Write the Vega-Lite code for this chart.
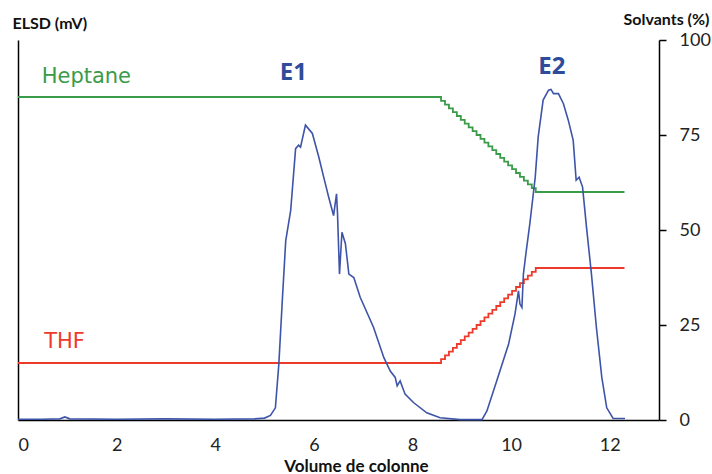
{
  "$schema": "https://vega.github.io/schema/vega-lite/v6.json",
  "width": 641,
  "height": 380,
  "autosize": {"type": "none"},
  "padding": {"left": 18, "top": 40, "right": 53, "bottom": 54},
  "background": "white",
  "config": {
    "view": {"stroke": null},
    "axis": {"labelFont": "Lato", "titleFont": "Lato", "domainColor": "#000000", "domainWidth": 1.5, "tickColor": "#000000", "tickWidth": 1.5, "labelColor": "#222222", "titleColor": "#111111", "grid": false, "labelFontSize": 18}
  },
  "datasets": {
    "elsd": [
      {"v": 0, "s": 0.2}, {"v": 0.5, "s": 0.2}, {"v": 0.85, "s": 0.3}, {"v": 0.95, "s": 0.8}, {"v": 1.05, "s": 0.3},
      {"v": 2, "s": 0.2}, {"v": 3, "s": 0.3}, {"v": 4, "s": 0.2}, {"v": 4.8, "s": 0.3}, {"v": 5.0, "s": 0.5},
      {"v": 5.12, "s": 1.2}, {"v": 5.22, "s": 3.2}, {"v": 5.29, "s": 14.7}, {"v": 5.36, "s": 31.4}, {"v": 5.43, "s": 47.2},
      {"v": 5.53, "s": 55.1}, {"v": 5.63, "s": 71.4}, {"v": 5.69, "s": 72.3}, {"v": 5.73, "s": 71.8}, {"v": 5.83, "s": 77.6},
      {"v": 5.97, "s": 75.4}, {"v": 6.10, "s": 69.2}, {"v": 6.20, "s": 63.9}, {"v": 6.30, "s": 58.7}, {"v": 6.40, "s": 53.8},
      {"v": 6.46, "s": 59.5}, {"v": 6.48, "s": 54.3}, {"v": 6.52, "s": 38.4}, {"v": 6.57, "s": 49.4}, {"v": 6.64, "s": 46.4},
      {"v": 6.71, "s": 38.4}, {"v": 6.81, "s": 37.5}, {"v": 6.94, "s": 32.3}, {"v": 7.21, "s": 24.4}, {"v": 7.42, "s": 16.4},
      {"v": 7.55, "s": 12.9}, {"v": 7.65, "s": 11.2}, {"v": 7.69, "s": 9.0}, {"v": 7.75, "s": 10.3}, {"v": 7.85, "s": 6.8},
      {"v": 8.02, "s": 4.6}, {"v": 8.29, "s": 1.9}, {"v": 8.56, "s": 0.6}, {"v": 8.97, "s": 0.1}, {"v": 9.41, "s": 0.1},
      {"v": 9.51, "s": 2.4}, {"v": 9.71, "s": 10.3}, {"v": 9.95, "s": 20.0}, {"v": 10.08, "s": 27.9}, {"v": 10.15, "s": 34.0},
      {"v": 10.18, "s": 30.5}, {"v": 10.22, "s": 29.6}, {"v": 10.25, "s": 38.4}, {"v": 10.30, "s": 43.7}, {"v": 10.38, "s": 51.6},
      {"v": 10.49, "s": 63.9}, {"v": 10.55, "s": 74.5}, {"v": 10.65, "s": 84.2}, {"v": 10.76, "s": 86.8}, {"v": 10.81, "s": 87.0},
      {"v": 10.86, "s": 85.9}, {"v": 10.96, "s": 85.9}, {"v": 11.06, "s": 83.3}, {"v": 11.16, "s": 78.9}, {"v": 11.26, "s": 73.6},
      {"v": 11.32, "s": 63.1}, {"v": 11.38, "s": 63.9}, {"v": 11.45, "s": 61.3}, {"v": 11.53, "s": 50.7}, {"v": 11.63, "s": 38.4},
      {"v": 11.73, "s": 24.4}, {"v": 11.84, "s": 11.2}, {"v": 11.94, "s": 3.2}, {"v": 12.07, "s": 0.4}, {"v": 12.31, "s": 0.4}
    ],
    "solv": [
      {"solvant": "Heptane", "v": 0, "pct": 85}, {"solvant": "Heptane", "v": 8.5, "pct": 85},
      {"solvant": "Heptane", "v": 8.58, "pct": 84}, {"solvant": "Heptane", "v": 8.66, "pct": 83},
      {"solvant": "Heptane", "v": 8.74, "pct": 82}, {"solvant": "Heptane", "v": 8.82, "pct": 81},
      {"solvant": "Heptane", "v": 8.9, "pct": 80}, {"solvant": "Heptane", "v": 8.98, "pct": 79},
      {"solvant": "Heptane", "v": 9.06, "pct": 78}, {"solvant": "Heptane", "v": 9.14, "pct": 77},
      {"solvant": "Heptane", "v": 9.22, "pct": 76}, {"solvant": "Heptane", "v": 9.3, "pct": 75},
      {"solvant": "Heptane", "v": 9.38, "pct": 74}, {"solvant": "Heptane", "v": 9.46, "pct": 73},
      {"solvant": "Heptane", "v": 9.54, "pct": 72}, {"solvant": "Heptane", "v": 9.62, "pct": 71},
      {"solvant": "Heptane", "v": 9.7, "pct": 70}, {"solvant": "Heptane", "v": 9.78, "pct": 69},
      {"solvant": "Heptane", "v": 9.86, "pct": 68}, {"solvant": "Heptane", "v": 9.94, "pct": 67},
      {"solvant": "Heptane", "v": 10.02, "pct": 66}, {"solvant": "Heptane", "v": 10.1, "pct": 65},
      {"solvant": "Heptane", "v": 10.18, "pct": 64}, {"solvant": "Heptane", "v": 10.26, "pct": 63},
      {"solvant": "Heptane", "v": 10.34, "pct": 62}, {"solvant": "Heptane", "v": 10.42, "pct": 61},
      {"solvant": "Heptane", "v": 10.5, "pct": 60}, {"solvant": "Heptane", "v": 12.3, "pct": 60},
      {"solvant": "THF", "v": 0, "pct": 15}, {"solvant": "THF", "v": 8.5, "pct": 15},
      {"solvant": "THF", "v": 8.58, "pct": 16}, {"solvant": "THF", "v": 8.66, "pct": 17},
      {"solvant": "THF", "v": 8.74, "pct": 18}, {"solvant": "THF", "v": 8.82, "pct": 19},
      {"solvant": "THF", "v": 8.9, "pct": 20}, {"solvant": "THF", "v": 8.98, "pct": 21},
      {"solvant": "THF", "v": 9.06, "pct": 22}, {"solvant": "THF", "v": 9.14, "pct": 23},
      {"solvant": "THF", "v": 9.22, "pct": 24}, {"solvant": "THF", "v": 9.3, "pct": 25},
      {"solvant": "THF", "v": 9.38, "pct": 26}, {"solvant": "THF", "v": 9.46, "pct": 27},
      {"solvant": "THF", "v": 9.54, "pct": 28}, {"solvant": "THF", "v": 9.62, "pct": 29},
      {"solvant": "THF", "v": 9.7, "pct": 30}, {"solvant": "THF", "v": 9.78, "pct": 31},
      {"solvant": "THF", "v": 9.86, "pct": 32}, {"solvant": "THF", "v": 9.94, "pct": 33},
      {"solvant": "THF", "v": 10.02, "pct": 34}, {"solvant": "THF", "v": 10.1, "pct": 35},
      {"solvant": "THF", "v": 10.18, "pct": 36}, {"solvant": "THF", "v": 10.26, "pct": 37},
      {"solvant": "THF", "v": 10.34, "pct": 38}, {"solvant": "THF", "v": 10.42, "pct": 39},
      {"solvant": "THF", "v": 10.5, "pct": 40}, {"solvant": "THF", "v": 12.3, "pct": 40}
    ],
    "peaks": [
      {"label": "E1", "v": 5.31, "y": 89.5},
      {"label": "E2", "v": 10.55, "y": 91.1}
    ],
    "solvlabels": [
      {"label": "Heptane", "v": 0.48, "y": 88.6, "c": "#3A9B48"},
      {"label": "THF", "v": 0.53, "y": 18.9, "c": "#EE3A2A"}
    ]
  },
  "layer": [
    {
      "data": {"name": "solv"},
      "mark": {"type": "line", "interpolate": "step-after", "strokeWidth": 1.8},
      "encoding": {
        "x": {"field": "v", "type": "quantitative", "scale": {"domain": [0, 13], "nice": false},
          "axis": {"values": [0, 2, 4, 6, 8, 10, 12], "ticks": false, "tickSize": 0, "labelPadding": 16, "labelBaseline": "top", "title": "Volume de colonne", "titleFontSize": 17, "titleFontWeight": "bold", "titleX": 338, "titleY": 51, "titleAlign": "center", "titleBaseline": "alphabetic"}},
        "y": {"field": "pct", "type": "quantitative", "scale": {"domain": [0, 100], "nice": false},
          "axis": {"orient": "right", "values": [0, 25, 50, 75, 100], "tickSize": 7, "labelPadding": 13, "title": "Solvants (%)", "titleAngle": 0, "titleFontSize": 16, "titleFontWeight": "bold", "titleX": 50, "titleY": -16, "titleAlign": "right", "titleBaseline": "alphabetic"}},
        "color": {"field": "solvant", "type": "nominal", "scale": {"domain": ["Heptane", "THF"], "range": ["#3A9B48", "#EE3A2A"]}, "legend": null}
      }
    },
    {
      "data": {"name": "elsd"},
      "mark": {"type": "line", "color": "#3E54A8", "strokeWidth": 1.6},
      "encoding": {
        "x": {"field": "v", "type": "quantitative"},
        "y": {"field": "s", "type": "quantitative", "scale": {"domain": [0, 100], "nice": false},
          "axis": {"orient": "left", "labels": false, "ticks": false, "values": [], "title": "ELSD (mV)", "titleAngle": 0, "titleFontSize": 16, "titleFontWeight": "bold", "titleX": -6, "titleY": -12, "titleAlign": "left", "titleBaseline": "alphabetic"}}
      }
    },
    {
      "data": {"name": "peaks"},
      "mark": {"type": "text", "font": "Open Sans", "fontWeight": "bold", "fontSize": 24, "align": "left", "baseline": "alphabetic", "color": "#2F4C9B"},
      "encoding": {
        "x": {"field": "v", "type": "quantitative"},
        "y": {"field": "y", "type": "quantitative", "scale": {"domain": [0, 100], "nice": false}, "axis": null},
        "text": {"field": "label"}
      }
    },
    {
      "data": {"name": "solvlabels"},
      "mark": {"type": "text", "font": "DejaVu Sans", "fontSize": 21, "align": "left", "baseline": "alphabetic"},
      "encoding": {
        "x": {"field": "v", "type": "quantitative"},
        "y": {"field": "y", "type": "quantitative", "scale": {"domain": [0, 100], "nice": false}, "axis": null},
        "text": {"field": "label"},
        "color": {"field": "c", "type": "nominal", "scale": null}
      }
    }
  ],
  "resolve": {"scale": {"y": "independent", "color": "independent"}}
}
